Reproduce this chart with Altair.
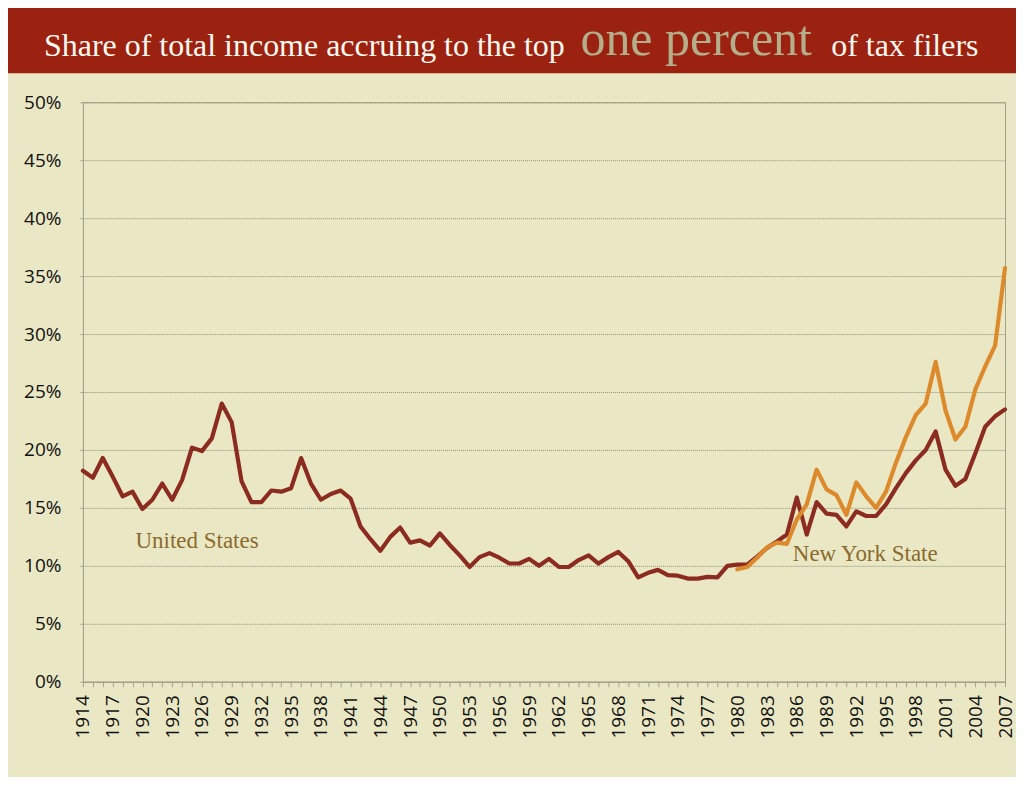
import altair as alt
import pandas as pd

years = list(range(1914, 2008))
us_share = [
    18.2, 17.6, 19.3, 17.7, 16.0, 16.4, 14.9, 15.7, 17.1, 15.7,   # 1914-1923
    17.4, 20.2, 19.9, 21.0, 24.0, 22.4, 17.3, 15.5, 15.5, 16.5,   # 1924-1933
    16.4, 16.7, 19.3, 17.1, 15.7, 16.2, 16.5, 15.8, 13.4, 12.3,   # 1934-1943
    11.3, 12.5, 13.3, 12.0, 12.2, 11.75, 12.8, 11.8, 10.9, 9.9,   # 1944-1953
    10.75, 11.1, 10.7, 10.2, 10.2, 10.6, 10.0, 10.6, 9.9, 9.9,    # 1954-1963
    10.5, 10.9, 10.2, 10.75, 11.2, 10.4, 9.0, 9.4, 9.65, 9.2,     # 1964-1973
    9.15, 8.9, 8.9, 9.05, 9.0, 10.0, 10.1, 10.1, 10.8, 11.55,     # 1974-1983
    12.1, 12.7, 15.9, 12.7, 15.5, 14.5, 14.4, 13.4, 14.7, 14.3,   # 1984-1993
    14.3, 15.3, 16.7, 18.0, 19.1, 20.0, 21.6, 18.3, 16.9, 17.5,   # 1994-2003
    19.7, 22.0, 22.9, 23.5,                                       # 2004-2007
]
ny_years = list(range(1980, 2008))
ny_share = [
    9.7, 9.9, 10.7, 11.6, 12.0, 11.9, 14.0, 15.3, 18.3, 16.6,     # 1980-1989
    16.1, 14.4, 17.2, 16.0, 15.0, 16.4, 18.9, 21.1, 23.0, 24.0,   # 1990-1999
    27.6, 23.4, 20.9, 22.0, 25.2, 27.2, 29.0, 35.7,               # 2000-2007
]
series_names = ["United States", "New York State"]
series_colors = ["#8C2B1F", "#DC8A2C"]
y_ticks = [0, 5, 10, 15, 20, 25, 30, 35, 40, 45, 50]

label_text = ["United States", "New York State"]
label_year = [1919.3, 1985.6]
label_val = [11.55, 10.45]

df = pd.concat([
    pd.DataFrame({"year": years, "share": us_share, "series": series_names[0]}),
    pd.DataFrame({"year": ny_years, "share": ny_share, "series": series_names[1]}),
])
labels_df = pd.DataFrame({"text": label_text, "year": label_year, "share": label_val})

W, H = 923, 580
BG = "#EAE8C4"
FRAME = "#A3A28A"

x_scale = alt.Scale(domain=[1914, 2007], nice=False, zero=False)
y_scale = alt.Scale(domain=[0, 50], nice=False)

x_axis = alt.Axis(values=years, tickCount=200, title=None, labelAngle=-90,
                  labelExpr="(datum.value - 1914) % 3 == 0 ? toString(datum.value) : ''",
                  labelOverlap=False, labelFlush=False, labelBound=False,
                  labelFont="Open Sans", labelFontSize=19, labelColor="#111111",
                  tickSize=5, tickColor=FRAME, labelPadding=8,
                  domainColor=FRAME, grid=False)
y_axis = alt.Axis(values=y_ticks, tickCount=20, title=None, labelExpr="datum.value + '%'",
                  labelFont="Open Sans", labelFontSize=19, labelColor="#111111",
                  tickSize=3, tickColor=FRAME, labelPadding=19,
                  domainColor=FRAME, grid=True, gridColor="#8E8D78",
                  gridDash=[1, 1], gridWidth=1)

lines = alt.Chart(df).mark_line(strokeWidth=4.2, strokeJoin="round", strokeCap="round").encode(
    x=alt.X("year:Q", scale=x_scale, axis=x_axis),
    y=alt.Y("share:Q", scale=y_scale, axis=y_axis),
    color=alt.Color("series:N", scale=alt.Scale(domain=series_names, range=series_colors), legend=None),
    order=alt.Order("series:N", sort="descending"),
)

annot = alt.Chart(labels_df).mark_text(
    font="Liberation Serif", fontSize=23, color="#8A6A2E", align="left", baseline="alphabetic"
).encode(x=alt.X("year:Q", scale=x_scale, axis=x_axis),
         y=alt.Y("share:Q", scale=y_scale, axis=y_axis), text="text:N")

banner_df = pd.DataFrame({"k": [0]})
banner = alt.Chart(banner_df).mark_rect(color="#9B2211").encode(
    x=alt.value(-80), x2=alt.value(W + 20), y=alt.value(-100), y2=alt.value(-29)
)
t1 = alt.Chart(banner_df).mark_text(
    text="Share of total income accruing to the top", font="Liberation Serif", fontSize=32,
    color="#FFF8EE", align="left", baseline="alphabetic"
).encode(x=alt.value(-39), y=alt.value(-46))
t2 = alt.Chart(banner_df).mark_text(
    text="one percent", font="Liberation Serif", fontSize=50,
    color="#B4AE8A", align="left", baseline="alphabetic"
).encode(x=alt.value(498), y=alt.value(-47))
t3 = alt.Chart(banner_df).mark_text(
    text="of tax filers", font="Liberation Serif", fontSize=32,
    color="#FFF8EE", align="left", baseline="alphabetic"
).encode(x=alt.value(749), y=alt.value(-46))

chart = alt.layer(lines, annot, banner, t1, t2, t3).properties(
    width=W, height=H, background=BG,
    autosize=alt.AutoSizeParams(type="none"),
    padding={"left": 75, "top": 94, "right": 11, "bottom": 95},
).configure_view(stroke=FRAME, strokeWidth=1)

chart.save("out.html", embed_options={"renderer": "svg", "actions": False})
